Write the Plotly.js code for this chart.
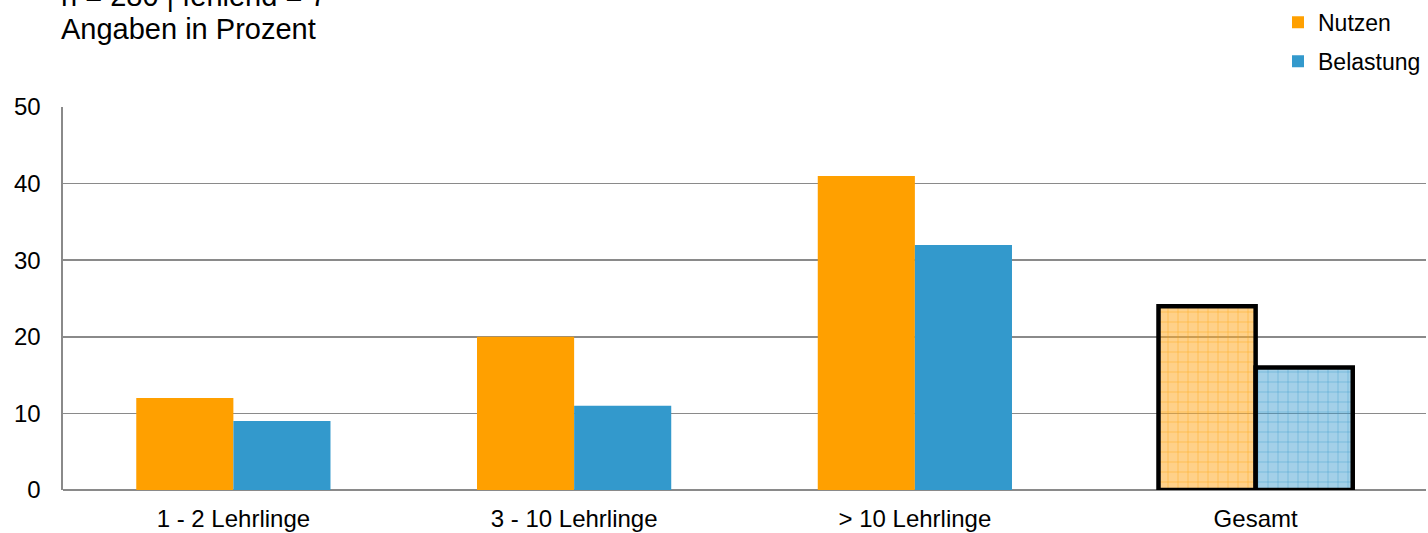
<!DOCTYPE html>
<html>
<head>
<meta charset="utf-8">
<script src="https://cdn.plot.ly/plotly-3.0.1.min.js"></script>
<style>html,body{margin:0;padding:0;background:#fff;}#chart{width:1428px;height:533px;}</style>
</head>
<body>
<div id="chart"></div>
<script>
const categories = ["1 - 2 Lehrlinge", "3 - 10 Lehrlinge", "> 10 Lehrlinge", "Gesamt"];
const nutzen = [12, 20, 41, 24];
const belastung = [9, 11, 32, 16];
const seriesNames = ["Nutzen", "Belastung"];
const yTicks = [0, 10, 20, 30, 40, 50];
const titleLines = ["n = 280 | fehlend = 7", "Angaben in Prozent"];

const orange = "#FFA000";
const blue = "#3399CC";
const font = "Liberation Sans, Arial, sans-serif";

function barTrace(name, values, color, lightFill, grp) {
  const last = values.length - 1;
  return {
    type: "bar",
    name: name,
    x: categories,
    y: values,
    legendgroup: grp,
    marker: {
      color: color,
      line: { color: "#000", width: values.map((v, i) => i === last ? 4.5 : 0) },
      pattern: {
        shape: values.map((v, i) => i === last ? "+" : ""),
        fillmode: "replace",
        bgcolor: values.map((v, i) => i === last ? lightFill : color),
        fgcolor: values.map(() => color),
        fgopacity: 0.75,
        size: 10,
        solidity: 0.1
      }
    },
    hoverinfo: "x+y+name"
  };
}

const data = [
  barTrace(seriesNames[0], nutzen, orange, "rgba(255,170,40,0.55)", "a"),
  barTrace(seriesNames[1], belastung, blue, "rgba(50,150,205,0.45)", "b")
];

const layout = {
  width: 1428,
  height: 533,
  margin: { l: 63, r: 2, t: 106, b: 43 },
  paper_bgcolor: "#fff",
  plot_bgcolor: "#fff",
  font: { family: font, size: 24, color: "#000" },
  barmode: "group",
  bargap: 0.43,
  bargroupgap: 0,
  showlegend: true,
  legend: {
    x: 1, xanchor: "right", y: 1.274, yanchor: "top",
    font: { family: font, size: 23, color: "#000" },
    tracegroupgap: 6,
    itemwidth: 30,
    bgcolor: "rgba(0,0,0,0)"
  },
  xaxis: {
    type: "category",
    showgrid: false,
    showline: false,
    zeroline: false,
    ticks: "",
    ticklabelstandoff: 12,
    tickfont: { family: font, size: 24, color: "#000" }
  },
  yaxis: {
    range: [0, 50],
    tickvals: yTicks,
    showgrid: true,
    gridcolor: "#8A8A8A",
    gridwidth: 1.6,
    showline: true,
    linecolor: "#8A8A8A",
    linewidth: 1.6,
    zeroline: true,
    zerolinecolor: "#8A8A8A",
    zerolinewidth: 1.6,
    ticks: "",
    ticklabelstandoff: 16,
    tickfont: { family: font, size: 24, color: "#000" }
  },
  annotations: [
    { text: titleLines[0], xref: "paper", yref: "paper", x: -0.003, xanchor: "left", y: (490 - 13) / 384, yanchor: "bottom", showarrow: false, font: { family: font, size: 29, color: "#000" } },
    { text: titleLines[1], xref: "paper", yref: "paper", x: -0.003, xanchor: "left", y: (490 - 46) / 384, yanchor: "bottom", showarrow: false, font: { family: font, size: 29, color: "#000" } }
  ]
};

Plotly.newPlot("chart", data, layout, { displayModeBar: false, staticPlot: true });
</script>
</body>
</html>
